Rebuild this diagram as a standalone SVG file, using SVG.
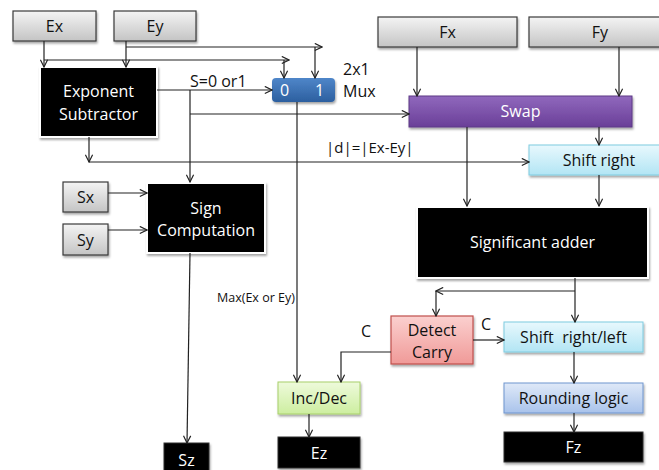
<svg xmlns="http://www.w3.org/2000/svg" width="659" height="470" viewBox="0 0 659 470">
<defs>
<linearGradient id="gGray" x1="0" y1="0" x2="0" y2="1"><stop offset="0" stop-color="#f4f4f4"/><stop offset="1" stop-color="#c4c4c4"/></linearGradient>
<linearGradient id="gMux" x1="0" y1="0" x2="0" y2="1"><stop offset="0" stop-color="#4f86c9"/><stop offset="1" stop-color="#2c5f9f"/></linearGradient>
<linearGradient id="gSwap" x1="0" y1="0" x2="0" y2="1"><stop offset="0" stop-color="#9068bd"/><stop offset="1" stop-color="#6a3f98"/></linearGradient>
<linearGradient id="gCyan" x1="0" y1="0" x2="0" y2="1"><stop offset="0" stop-color="#e8f8fd"/><stop offset="1" stop-color="#b2e5f4"/></linearGradient>
<linearGradient id="gBlue" x1="0" y1="0" x2="0" y2="1"><stop offset="0" stop-color="#dfe9f8"/><stop offset="1" stop-color="#a9c3eb"/></linearGradient>
<linearGradient id="gRed" x1="0" y1="0" x2="0" y2="1"><stop offset="0" stop-color="#fbd0cf"/><stop offset="1" stop-color="#f09a98"/></linearGradient>
<linearGradient id="gGreen" x1="0" y1="0" x2="0" y2="1"><stop offset="0" stop-color="#eefadb"/><stop offset="1" stop-color="#cdeea0"/></linearGradient>
<filter id="sh" x="-10%" y="-10%" width="130%" height="140%"><feDropShadow dx="1" dy="2" stdDeviation="1.2" flood-color="#000" flood-opacity="0.35"/></filter>
<marker id="ar" viewBox="0 0 10 10" refX="9" refY="5" markerWidth="9" markerHeight="9" markerUnits="userSpaceOnUse" orient="auto"><path d="M1,1 L9,5 L1,9" fill="none" stroke="#222" stroke-width="1.3"/></marker>
<style>
text{font-family:"Open Sans","Liberation Sans",sans-serif;font-size:16px;fill:#111;}
.w{fill:#fff;}
.c{text-anchor:middle;}
.gray{fill:url(#gGray);stroke:#3a3a3a;stroke-width:1.2;filter:url(#sh);}
.blk{fill:#000;stroke:#fff;stroke-width:2;filter:url(#sh);}
.blk2{fill:#000;stroke:#333;stroke-width:1;filter:url(#sh);}
.ln{fill:none;stroke:#222;stroke-width:1.2;}
.arr{marker-end:url(#ar);}
</style>
</defs>

<g id="Ex"><rect class="gray" x="13" y="11" width="83" height="30"/><text class="c" x="54.5" y="32">Ex</text></g>
<g id="Ey"><rect class="gray" x="114" y="11" width="82" height="30"/><text class="c" x="155" y="32">Ey</text></g>
<g id="Fx"><rect class="gray" x="378" y="17" width="139" height="30"/><text class="c" x="447.5" y="38">Fx</text></g>
<g id="Fy"><rect class="gray" x="529" y="17" width="136" height="30"/><text class="c" x="600" y="38">Fy</text></g>

<g id="expsub"><rect class="blk" x="40" y="67" width="117" height="70"/><text class="c w" x="98.5" y="97">Exponent</text><text class="c w" x="98.5" y="120">Subtractor</text></g>

<g id="mux"><rect x="272" y="78" width="63" height="24" rx="4" fill="url(#gMux)" filter="url(#sh)"/><text class="w" x="280" y="96">0</text><text class="w" x="315" y="96">1</text>
<text x="343" y="75">2x1</text><text x="343" y="97">Mux</text></g>

<g id="swap"><rect x="409" y="96" width="223" height="31" fill="url(#gSwap)" stroke="#5d3a86" stroke-width="1" filter="url(#sh)"/><text class="c w" x="520.5" y="117">Swap</text></g>

<g id="shiftright"><rect x="529" y="145" width="135" height="30" fill="url(#gCyan)" stroke="#7fcbe0" stroke-width="1" filter="url(#sh)"/><text class="c" x="599" y="166">Shift right</text></g>

<g id="sx"><rect class="gray" x="63" y="182" width="45" height="30"/><text class="c" x="85.5" y="203">Sx</text></g>
<g id="sy"><rect class="gray" x="63" y="224" width="45" height="31" /><text class="c" x="85.5" y="245.5">Sy</text></g>

<g id="sign"><rect class="blk" x="147" y="183" width="118" height="70"/><text class="c w" x="206" y="214">Sign</text><text class="c w" x="206" y="236">Computation</text></g>

<g id="adder"><rect class="blk" x="417" y="207" width="231" height="71"/><text class="c w" x="532.5" y="248">Significant adder</text></g>

<g id="detect"><rect x="391" y="316" width="82" height="48" fill="url(#gRed)" stroke="#c0504d" stroke-width="1.2" filter="url(#sh)"/><text class="c" x="432" y="336">Detect</text><text class="c" x="432" y="358">Carry</text></g>

<g id="shiftrl"><rect x="504" y="322" width="139" height="30" fill="url(#gCyan)" stroke="#7fcbe0" stroke-width="1" filter="url(#sh)"/><text class="c" x="573.5" y="343" xml:space="preserve">Shift  right/left</text></g>

<g id="round"><rect x="504" y="383" width="139" height="30" fill="url(#gBlue)" stroke="#6f95cf" stroke-width="1" filter="url(#sh)"/><text class="c" x="573.5" y="404">Rounding logic</text></g>

<g id="fz"><rect class="blk2" x="504" y="432" width="139" height="30"/><text class="c w" x="573.5" y="453">Fz</text></g>

<g id="incdec"><rect x="278" y="382" width="82" height="32" fill="url(#gGreen)" stroke="#a8d06a" stroke-width="1" filter="url(#sh)"/><text class="c" x="319" y="404">Inc/Dec</text></g>

<g id="ez"><rect class="blk2" x="278" y="437" width="82" height="31"/><text class="c w" x="319" y="458.5">Ez</text></g>

<g id="sz"><rect class="blk2" x="164" y="443" width="45" height="32"/><text class="c w" x="186.5" y="465.5">Sz</text></g>

<g id="labels">
<text x="190" y="87">S=0 or1</text>
<text x="326" y="153" style="font-size:15px">|d|=|Ex-Ey|</text>
<text x="217" y="302" style="font-size:12.5px">Max(Ex or Ey)</text>
<text x="361" y="337">C</text>
<text x="481" y="330">C</text>
</g>

<g id="connectors">
<path class="ln arr" d="M44,41 V67"/>
<path class="ln arr" d="M126,41 V67"/>
<path class="ln arr" d="M44,60 H289"/>
<path class="ln arr" d="M126,47 H322"/>
<path class="ln arr" d="M284,60 V78"/>
<path class="ln arr" d="M315,47 V78"/>
<path class="ln arr" d="M157,90 H272"/>
<path class="ln arr" d="M190,90 V182"/>
<path class="ln arr" d="M190,114 H409"/>
<path class="ln arr" d="M297,102 V382"/>
<path class="ln arr" d="M89,137 V162"/>
<path class="ln arr" d="M89,162 H529"/>
<path class="ln arr" d="M417,47 V96"/>
<path class="ln arr" d="M619,47 V96"/>
<path class="ln arr" d="M599,127 V145"/>
<path class="ln arr" d="M467,127 V206"/>
<path class="ln arr" d="M599,175 V206"/>
<path class="ln arr" d="M108,193 H147"/>
<path class="ln arr" d="M108,230 H147"/>
<path class="ln arr" d="M190,253 L187,443"/>
<path class="ln arr" d="M575,278 V322"/>
<path class="ln arr" d="M575,291 H436"/>
<path class="ln arr" d="M436,291 V316"/>
<path class="ln arr" d="M391,352 H341 V382"/>
<path class="ln arr" d="M473,340 H504"/>
<path class="ln arr" d="M574,352 V383"/>
<path class="ln arr" d="M574,413 V432"/>
<path class="ln arr" d="M309,414 V437"/>
</g>
</svg>
